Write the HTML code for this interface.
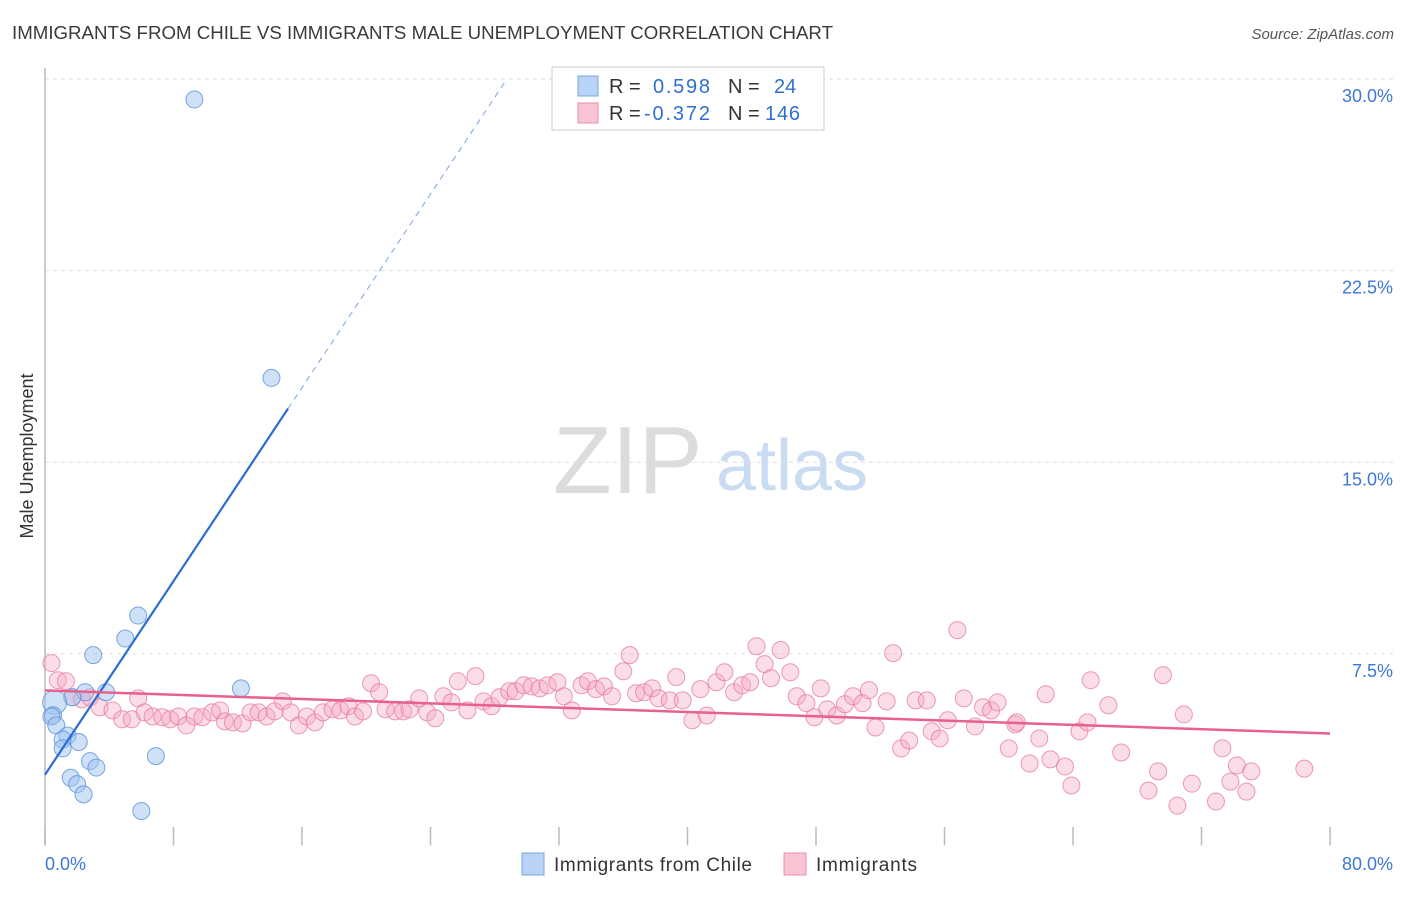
<!DOCTYPE html>
<html><head><meta charset="utf-8"><style>
body{margin:0;background:#fff;font-family:"Liberation Sans",sans-serif}
svg text{font-family:"Liberation Sans",sans-serif}
</style></head><body>
<svg id="chart" width="1406" height="892" viewBox="0 0 1406 892" xmlns="http://www.w3.org/2000/svg">
<text x="12" y="39" font-size="18" fill="#3a3a3a" textLength="821" lengthAdjust="spacingAndGlyphs">IMMIGRANTS FROM CHILE VS IMMIGRANTS MALE UNEMPLOYMENT CORRELATION CHART</text>
<text x="1394" y="39" font-size="15" fill="#555" font-style="italic" text-anchor="end">Source: ZipAtlas.com</text>
<text transform="translate(33,456) rotate(-90)" font-size="18" fill="#333" text-anchor="middle">Male Unemployment</text>
<g>
<text x="553" y="493" font-size="96" fill="#dcdcdc" font-family="Liberation Serif, serif">ZIP</text>
<text x="716" y="490" font-size="72" fill="#c9dcf2">atlas</text>
</g>
<g id="grid"></g>
<g id="axes"></g>
<g id="pink"></g>
<g id="blue"></g>
<g id="lines"></g>
<g>
<rect x="552" y="67" width="272" height="63" fill="#fff" stroke="#ccc"/>
<rect x="578" y="76" width="20" height="20" fill="#b8d3f5" stroke="#7aa7e0"/>
<text x="609" y="93" font-size="20" fill="#333">R =</text>
<text x="653" y="93" font-size="20" fill="#2f6fd0" textLength="57">0.598</text>
<text x="728" y="93" font-size="20" fill="#333">N =</text>
<text x="774" y="93" font-size="20" fill="#2f6fd0">24</text>
<rect x="578" y="103" width="20" height="20" fill="#f9c4d4" stroke="#e890ad"/>
<text x="609" y="120" font-size="20" fill="#333">R =</text>
<text x="644" y="120" font-size="20" fill="#2f6fd0" textLength="66">-0.372</text>
<text x="728" y="120" font-size="20" fill="#333">N =</text>
<text x="765" y="120" font-size="20" fill="#2f6fd0" textLength="35">146</text>
</g>
<g>
<rect x="522" y="853" width="22" height="22" fill="#b8d3f5" stroke="#7aa7e0"/>
<text x="554" y="871" font-size="19" fill="#333" textLength="198">Immigrants from Chile</text>
<rect x="784" y="853" width="22" height="22" fill="#f9c4d4" stroke="#e890ad"/>
<text x="816" y="871" font-size="19" fill="#333" textLength="101">Immigrants</text>
</g>
</svg>
<script>
const yTicks=[7.5,15,22.5,30];
const yTickLabels=["7.5%","15.0%","22.5%","30.0%"];
const xTicks=[0,8,16,24,32,40,48,56,64,72,80];
const blueX=[9.3,14.1,5.8,5.0,3.0,12.2,2.5,3.8,1.7,0.6,0.5,0.4,0.7,1.4,1.1,1.1,2.1,6.9,2.8,3.2,1.6,2.0,2.4,6.0];
const blueY=[29.2,18.3,9.0,8.1,7.45,6.15,6.0,6.0,5.8,5.6,5.1,5.05,4.7,4.3,4.15,3.8,4.05,3.5,3.3,3.05,2.65,2.4,2.0,1.35];
const pinkX=[0.4,0.8,1.3,1.7,2.3,2.8,3.4,4.2,4.8,5.4,5.8,6.2,6.7,7.3,7.8,8.3,8.8,9.3,9.8,10.4,10.9,11.2,11.7,12.3,12.8,13.3,13.8,14.3,14.8,15.3,15.8,16.3,16.8,17.3,17.9,18.4,18.9,19.3,19.8,20.3,20.8,21.2,21.8,22.3,22.7,23.3,23.8,24.3,24.8,25.3,25.7,26.3,26.8,27.3,27.8,28.3,28.9,29.3,29.8,30.3,30.8,31.3,31.9,32.3,32.8,33.4,33.8,34.3,34.8,35.3,36.0,36.4,36.8,37.3,37.8,38.2,38.9,39.3,39.7,40.3,40.8,41.2,41.8,42.3,42.9,43.4,43.9,44.3,44.8,45.2,45.8,46.4,46.8,47.4,47.9,48.3,48.7,49.3,49.8,50.3,50.9,51.3,51.7,52.4,52.8,53.3,53.8,54.2,54.9,55.2,55.7,56.2,56.8,57.2,57.9,58.4,58.9,59.3,60.0,60.4,60.5,61.3,61.9,62.3,62.6,63.5,63.9,64.4,64.9,65.1,66.2,67.0,68.7,69.3,69.6,70.5,70.9,71.4,72.9,73.3,73.8,74.2,74.8,75.1,78.4];
const pinkY=[7.14,6.47,6.43,5.8,5.72,5.8,5.41,5.29,4.94,4.94,5.76,5.21,5.05,5.02,4.94,5.05,4.7,5.05,5.02,5.21,5.29,4.86,4.82,4.78,5.21,5.21,5.05,5.25,5.64,5.21,4.7,5.05,4.82,5.21,5.33,5.29,5.45,5.05,5.25,6.35,6.0,5.33,5.25,5.25,5.33,5.76,5.21,4.98,5.84,5.6,6.43,5.29,6.63,5.64,5.45,5.8,6.04,6.04,6.27,6.23,6.15,6.27,6.39,5.84,5.29,6.27,6.43,6.12,6.23,5.84,6.82,7.45,5.96,6.0,6.15,5.76,5.68,6.59,5.68,4.9,6.12,5.09,6.39,6.78,6.0,6.27,6.39,7.8,7.1,6.55,7.65,6.78,5.84,5.57,5.02,6.15,5.33,5.09,5.53,5.84,5.57,6.08,4.62,5.64,7.53,3.8,4.11,5.68,5.68,4.47,4.19,4.9,8.43,5.76,4.66,5.41,5.29,5.6,3.8,4.74,4.82,3.21,4.19,5.92,3.37,3.09,2.35,4.47,4.82,6.47,5.49,3.64,2.15,2.9,6.67,1.56,5.13,2.42,1.72,3.8,2.5,3.13,2.11,2.9,3.01];
const blueTrend=[2.77,0.947];
const pinkTrend=[6.07,-0.0211];
const NS="http://www.w3.org/2000/svg";
const X0=45,X1=1330,Y0=845.5,Y1=79;
function sx(v){return X0+(v/80)*(X1-X0);}
function sy(v){return Y0-(v/30)*(Y0-Y1);}
function mk(tag,attrs,parent){const e=document.createElementNS(NS,tag);for(const k in attrs)e.setAttribute(k,attrs[k]);parent.appendChild(e);return e;}
const grid=document.getElementById('grid'),axes=document.getElementById('axes');
yTicks.forEach((t,i)=>{
  const l=mk('line',{x1:X0,x2:1393,y1:sy(t),y2:sy(t),stroke:'#ddd','stroke-dasharray':'4,4'},grid);
  
  
  const tx=mk('text',{x:1393,y:sy(t)+23,'font-size':18,fill:'#3d78d8','text-anchor':'end'},axes);
  tx.textContent=yTickLabels[i];
  
  
});
const ya=mk('line',{x1:X0,x2:X0,y1:68,y2:Y0,stroke:'#bbb','stroke-width':1.5},axes);


xTicks.forEach(t=>{
  const l=mk('line',{x1:sx(t),x2:sx(t),y1:827,y2:Y0,stroke:'#bbb','stroke-width':1.5},axes);
  
  
});
const xl0=mk('text',{x:45,y:870,'font-size':18,fill:'#3d78d8'},axes);xl0.textContent='0.0%';


const xl1=mk('text',{x:1393,y:870,'font-size':18,fill:'#3d78d8','text-anchor':'end'},axes);xl1.textContent='80.0%';


const pg=document.getElementById('pink');
pinkX.forEach((x,i)=>{
  const c=mk('circle',{cx:sx(x),cy:sy(pinkY[i]),r:8.5,fill:'rgba(246,170,195,0.4)',stroke:'rgba(230,120,160,0.75)','stroke-width':1},pg);
  
  
});
const bg=document.getElementById('blue');
blueX.forEach((x,i)=>{
  const c=mk('circle',{cx:sx(x),cy:sy(blueY[i]),r:i==9?12:8.5,fill:'rgba(160,196,240,0.5)',stroke:'rgba(90,145,220,0.8)','stroke-width':1},bg);
  
  
});
const lg=document.getElementById('lines');
const bSolidEnd=15.13,bEnd=(30-blueTrend[0])/blueTrend[1];
const b1=mk('line',{x1:sx(0),y1:sy(blueTrend[0]),x2:sx(bSolidEnd),y2:sy(blueTrend[0]+blueTrend[1]*bSolidEnd),stroke:'#2a6dd5','stroke-width':2.2},lg);


const b2=mk('line',{x1:sx(bSolidEnd),y1:sy(blueTrend[0]+blueTrend[1]*bSolidEnd),x2:sx(bEnd),y2:sy(30),stroke:'#7aa4dc','stroke-width':1,'stroke-dasharray':'6,5'},lg);


const p1=mk('line',{x1:sx(0),y1:sy(pinkTrend[0]),x2:sx(80),y2:sy(pinkTrend[0]+pinkTrend[1]*80),stroke:'#e8608c','stroke-width':2.5},lg);


</script>
</body></html>
